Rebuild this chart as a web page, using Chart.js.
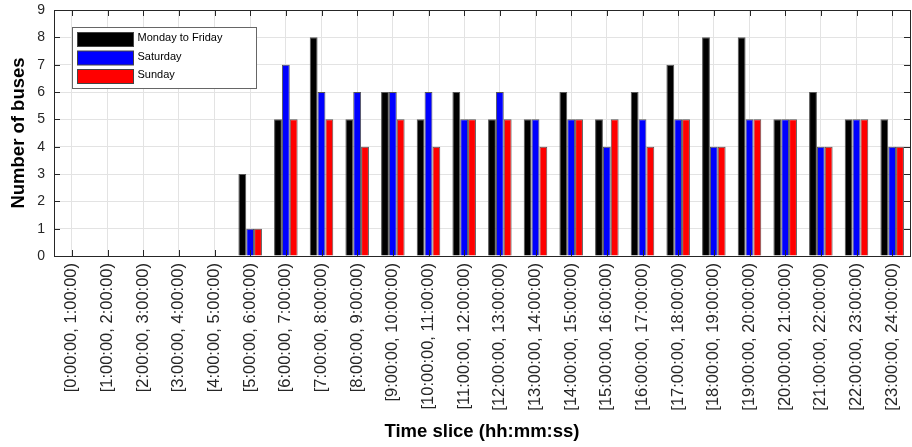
<!DOCTYPE html>
<html>
<head>
<meta charset="utf-8">
<script src="https://cdn.jsdelivr.net/npm/chart.js@4/dist/chart.umd.min.js"></script>
<style>
  html, body { margin: 0; padding: 0; background: #fff; }
  #wrap { width: 912px; height: 447px; }
</style>
</head>
<body>
<div id="wrap"><canvas id="graphic" width="912" height="447"></canvas></div>
<script>
const slices = [
  '[0:00:00, 1:00:00)', '[1:00:00, 2:00:00)', '[2:00:00, 3:00:00)', '[3:00:00, 4:00:00)',
  '[4:00:00, 5:00:00)', '[5:00:00, 6:00:00)', '[6:00:00, 7:00:00)', '[7:00:00, 8:00:00)',
  '[8:00:00, 9:00:00)', '[9:00:00, 10:00:00)', '[10:00:00, 11:00:00)', '[11:00:00, 12:00:00)',
  '[12:00:00, 13:00:00)', '[13:00:00, 14:00:00)', '[14:00:00, 15:00:00)', '[15:00:00, 16:00:00)',
  '[16:00:00, 17:00:00)', '[17:00:00, 18:00:00)', '[18:00:00, 19:00:00)', '[19:00:00, 20:00:00)',
  '[20:00:00, 21:00:00)', '[21:00:00, 22:00:00)', '[22:00:00, 23:00:00)', '[23:00:00, 24:00:00)'
];
const weekdays = [0, 0, 0, 0, 0, 3, 5, 8, 5, 6, 5, 6, 5, 5, 6, 5, 6, 7, 8, 8, 5, 6, 5, 5];
const saturday = [0, 0, 0, 0, 0, 1, 7, 6, 6, 6, 6, 5, 6, 5, 5, 4, 5, 5, 4, 5, 5, 4, 5, 4];
const sunday   = [0, 0, 0, 0, 0, 1, 5, 5, 4, 5, 4, 5, 5, 4, 5, 5, 4, 5, 4, 5, 5, 4, 5, 4];
const yTicks = [0, 1, 2, 3, 4, 5, 6, 7, 8, 9];

const seriesNames = ['Monday to Friday', 'Saturday', 'Sunday'];
const colors = ['#000000', '#0000ff', '#ff0000'];
const font = "'Liberation Sans', Arial, Helvetica, sans-serif";
const axisColor = '#262626';

// matlab-like box with inward ticks on all four sides
const boxPlugin = {
  id: 'box',
  afterDatasetsDraw(chart) {
    const { ctx, chartArea: a, scales } = chart;
    const t = 6;
    ctx.save();
    ctx.strokeStyle = axisColor;
    ctx.lineWidth = 1;
    ctx.beginPath();
    scales.x.ticks.forEach((tk, i) => {
      const x = Math.round(scales.x.getPixelForTick(i)) + 0.5;
      ctx.moveTo(x, a.top); ctx.lineTo(x, a.top + t);
      ctx.moveTo(x, a.bottom); ctx.lineTo(x, a.bottom - t);
    });
    yTicks.forEach(v => {
      const y = Math.round(scales.y.getPixelForValue(v)) + 0.5;
      ctx.moveTo(a.left, y); ctx.lineTo(a.left + t, y);
      ctx.moveTo(a.right, y); ctx.lineTo(a.right - t, y);
    });
    ctx.stroke();
    ctx.strokeRect(Math.round(a.left) + 0.5, Math.round(a.top) + 0.5,
      Math.round(a.right - a.left), Math.round(a.bottom - a.top));
    ctx.restore();
  }
};

const legendPlugin = {
  id: 'boxLegend',
  afterDraw(chart) {
    const { ctx, chartArea: a } = chart;
    const x0 = Math.round(a.left) + 18.5, y0 = Math.round(a.top) + 17.5;
    ctx.save();
    ctx.fillStyle = '#fff';
    ctx.fillRect(x0, y0, 184, 61);
    ctx.strokeStyle = '#666';
    ctx.lineWidth = 1;
    ctx.strokeRect(x0, y0, 184, 61);
    chart.data.datasets.forEach((ds, i) => {
      const sy = y0 + 5 + i * 18.5;
      ctx.fillStyle = ds.backgroundColor;
      ctx.fillRect(x0 + 5, sy, 56, 14);
      ctx.strokeStyle = '#444';
      ctx.strokeRect(x0 + 5, sy, 56, 14);
      ctx.fillStyle = '#000';
      ctx.font = '11px ' + font;
      ctx.textBaseline = 'middle';
      ctx.textAlign = 'left';
      ctx.fillText(ds.label, x0 + 65, sy + 5.5);
    });
    ctx.restore();
  }
};

const ctx = document.getElementById('graphic').getContext('2d');
const myChart = new Chart(ctx, {
  type: 'bar',
  data: {
    labels: slices,
    datasets: [weekdays, saturday, sunday].map((d, i) => ({
      label: seriesNames[i],
      data: d,
      backgroundColor: colors[i],
      borderColor: '#555',
      borderWidth: 1,
      categoryPercentage: 0.66,
      barPercentage: 1
    }))
  },
  options: {
    responsive: false,
    devicePixelRatio: 1,
    animation: false,
    layout: { padding: { top: 10, right: 2, left: 0, bottom: 0 } },
    plugins: {
      legend: { display: false },
      tooltip: { enabled: false }
    },
    scales: {
      x: {
        offset: true,
        grid: { offset: false, color: '#e3e3e3', drawTicks: false },
        border: { display: false },
        ticks: {
          maxRotation: 90, minRotation: 90, autoSkip: false, padding: 7,
          color: axisColor, font: { family: font, size: 16.5 }
        },
        title: {
          display: true, text: 'Time slice (hh:mm:ss)', color: '#000',
          font: { family: font, size: 18.5, weight: 'bold' },
          padding: { top: 4, bottom: 4 }
        },
        afterFit(scale) {
          scale.height = 191;
          scale.paddingLeft = 0;
          scale.paddingRight = 0;
        }
      },
      y: {
        min: 0, max: 9,
        grid: { color: '#e3e3e3', drawTicks: false },
        border: { display: false },
        ticks: {
          stepSize: 1, padding: 9,
          color: axisColor, font: { family: font, size: 14 }
        },
        title: {
          display: true, text: 'Number of buses', color: '#000',
          font: { family: font, size: 18.5, weight: 'bold' },
          padding: { top: 8, bottom: 4 }
        },
        afterFit(scale) {
          scale.width = 54;
          scale.paddingTop = 0;
          scale.paddingBottom = 0;
        }
      }
    }
  },
  plugins: [boxPlugin, legendPlugin]
});
</script>
</body>
</html>
